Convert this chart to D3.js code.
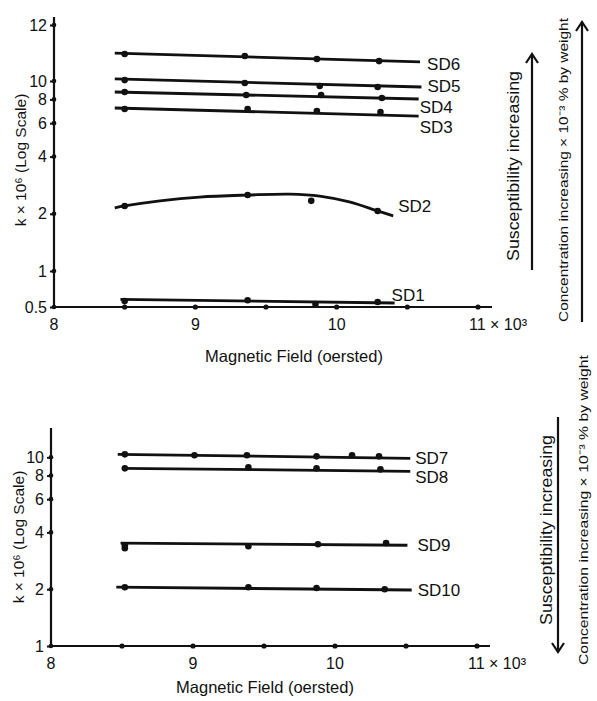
<!DOCTYPE html>
<html>
<head>
<meta charset="utf-8">
<script src="https://cdn.jsdelivr.net/npm/d3@7"></script>
<style>
  body { margin: 0; background: #fff; }
  svg { display: block; }
  text { font-family: "Liberation Sans", Arial, sans-serif; fill: #111; }
  .axis .domain { display: none; }
  .axis line { stroke: #111; stroke-width: 2; }
  .axis text { font-size: 16px; }
</style>
</head>
<body>
<div class="chart"></div>
<script>
var svgWidth = 597;
var svgHeight = 701;

// ---------- data ----------
var fieldTicks = [8.5, 9, 9.5, 10, 10.5, 11];
var fieldLabels = [8, 9, 10, 11];
var topKTicks = [0.5, 1, 2, 4, 6, 8, 10, 12];
var bottomKTicks = [1, 2, 4, 6, 8, 10];

// top panel: line ends and measured points (field x 10^3 Oe, k x 10^6)
var sd6LineX = [8.43, 10.59], sd6LineK = [10.95, 10.64];
var sd6X = [8.50, 9.35, 9.86, 10.30], sd6K = [10.92, 10.85, 10.74, 10.67];
var sd5LineX = [8.43, 10.60], sd5LineK = [10.07, 9.30];
var sd5X = [8.50, 9.35, 9.88, 10.29], sd5K = [10.03, 9.76, 9.41, 9.30];
var sd4LineX = [8.43, 10.58], sd4LineK = [8.75, 8.04];
var sd4X = [8.50, 9.36, 9.89, 10.32], sd4K = [8.75, 8.44, 8.44, 8.14];
var sd3LineX = [8.43, 10.58], sd3LineK = [7.21, 6.54];
var sd3X = [8.50, 9.37, 9.86, 10.31], sd3K = [7.12, 7.12, 6.95, 6.87];
var sd2LineX = [8.43, 8.50, 8.75, 9.03, 9.37, 9.67, 9.88, 10.09, 10.29, 10.40];
var sd2LineK = [2.15, 2.20, 2.34, 2.45, 2.51, 2.54, 2.48, 2.31, 2.07, 1.95];
var sd2X = [8.50, 9.37, 9.82, 10.29], sd2K = [2.20, 2.51, 2.34, 2.07];
var sd1LineX = [8.47, 10.41], sd1LineK = [0.58, 0.54];
var sd1X = [8.50, 9.37, 9.85, 10.29], sd1K = [0.56, 0.57, 0.53, 0.55];

// bottom panel
var sd7LineX = [8.47, 10.53], sd7LineK = [10.37, 9.88];
var sd7X = [8.52, 9.01, 9.38, 9.87, 10.12, 10.31], sd7K = [10.37, 10.25, 10.25, 10.12, 10.25, 10.12];
var sd8LineX = [8.50, 10.53], sd8LineK = [8.74, 8.43];
var sd8X = [8.52, 9.39, 9.87, 10.32], sd8K = [8.74, 8.85, 8.74, 8.63];
var sd9LineX = [8.49, 10.51], sd9LineK = [3.51, 3.42];
var sd9X = [8.52, 8.52, 9.39, 9.88, 10.36], sd9K = [3.42, 3.30, 3.38, 3.46, 3.51];
var sd10LineX = [8.46, 10.54], sd10LineK = [2.05, 1.98];
var sd10X = [8.52, 9.39, 9.87, 10.35], sd10K = [2.05, 2.05, 2.03, 2.00];

var topSeries = [
  {name: "SD6", lx: sd6LineX, lk: sd6LineK, px: sd6X, pk: sd6K},
  {name: "SD5", lx: sd5LineX, lk: sd5LineK, px: sd5X, pk: sd5K},
  {name: "SD4", lx: sd4LineX, lk: sd4LineK, px: sd4X, pk: sd4K},
  {name: "SD3", lx: sd3LineX, lk: sd3LineK, px: sd3X, pk: sd3K},
  {name: "SD2", lx: sd2LineX, lk: sd2LineK, px: sd2X, pk: sd2K, curved: true},
  {name: "SD1", lx: sd1LineX, lk: sd1LineK, px: sd1X, pk: sd1K}
];
var bottomSeries = [
  {name: "SD7", lx: sd7LineX, lk: sd7LineK, px: sd7X, pk: sd7K},
  {name: "SD8", lx: sd8LineX, lk: sd8LineK, px: sd8X, pk: sd8K},
  {name: "SD9", lx: sd9LineX, lk: sd9LineK, px: sd9X, pk: sd9K},
  {name: "SD10", lx: sd10LineX, lk: sd10LineK, px: sd10X, pk: sd10K}
];

// label offsets from the line end (px)
var labelOffset = {
  SD6: [7, 3], SD5: [6, 0], SD4: [1, 8], SD3: [1, 11], SD2: [5, -9], SD1: [-3, -8],
  SD7: [5, 0], SD8: [5, 6], SD9: [10, 0], SD10: [6, 0]
};

var svg = d3.select(".chart").append("svg")
  .attr("width", svgWidth)
  .attr("height", svgHeight);

// ---------- scales ----------
var xTop = d3.scaleLinear().domain([8, 11]).range([54, 478]);
var yTop = d3.scaleLog().domain([0.5, 1, 10, 12, 12.33]).range([307, 271, 81, 25, 17]);

var xBot = d3.scaleLinear().domain([8, 11]).range([51, 477]);
var yBot = d3.scaleLog().domain([1, 14.3]).range([646, 428]);

function drawPanel(x, y, kTicks, series, axisRight, yTitlePos, xTitleX, xTitleY) {
  var g = svg.append("g");
  var x0 = x.range()[0];
  var yDom = y.domain();
  var yBase = y(yDom[0]);

  // axis lines
  g.append("line")
    .attr("x1", x0).attr("x2", x0)
    .attr("y1", yBase).attr("y2", y(yDom[yDom.length - 1]))
    .attr("stroke", "#111").attr("stroke-width", 2.2);
  g.append("line")
    .attr("x1", x0).attr("x2", axisRight)
    .attr("y1", yBase).attr("y2", yBase)
    .attr("stroke", "#111").attr("stroke-width", 2.2);

  var leftAxis = d3.axisLeft(y)
    .tickValues(kTicks)
    .tickFormat(d => d === 0.5 ? "0.5" : d3.format("d")(d))
    .tickSize(4)
    .tickPadding(3);
  g.append("g")
    .attr("class", "axis")
    .attr("transform", `translate(${x0},0)`)
    .call(leftAxis);

  g.selectAll(".ydot")
    .data(kTicks)
    .enter().append("circle")
    .attr("cx", x0).attr("cy", d => y(d)).attr("r", 2.3)
    .attr("fill", "#111");

  g.selectAll(".xdot")
    .data(fieldTicks)
    .enter().append("circle")
    .attr("cx", d => x(d)).attr("cy", yBase).attr("r", 2.6)
    .attr("fill", "#111");

  // x tick labels
  g.selectAll(".xlab")
    .data(fieldLabels)
    .enter().append("text")
    .attr("x", d => x(d))
    .attr("y", yBase + 23)
    .attr("text-anchor", d => d === 11 ? "start" : "middle")
    .attr("dx", d => d === 11 ? -9 : 0)
    .attr("font-size", 16)
    .text(d => d === 11 ? "11 \u00d7 10\u00b3" : d);

  g.append("text")
    .attr("x", xTitleX).attr("y", xTitleY)
    .attr("text-anchor", "middle")
    .attr("font-size", 16.5)
    .text("Magnetic Field (oersted)");

  g.append("text")
    .attr("transform", `translate(${yTitlePos[0]},${yTitlePos[1]}) rotate(-90)`)
    .attr("text-anchor", "middle")
    .attr("dominant-baseline", "central")
    .attr("font-size", 15.5)
    .text("k \u00d7 10\u2076 (Log Scale)");

  var line = d3.line().x(d => x(d[0])).y(d => y(d[1]));

  series.forEach(s => {
    var pts = s.lx.map((v, i) => [v, s.lk[i]]);
    g.append("path")
      .attr("d", line.curve(s.curved ? d3.curveCatmullRom : d3.curveLinear)(pts))
      .attr("fill", "none")
      .attr("stroke", "#111")
      .attr("stroke-width", 2.8);

    g.selectAll(null)
      .data(s.px.map((v, i) => [v, s.pk[i]]))
      .enter().append("circle")
      .attr("cx", d => x(d[0])).attr("cy", d => y(d[1]))
      .attr("r", 3.3)
      .attr("fill", "#111");

    var end = pts[pts.length - 1];
    var off = labelOffset[s.name];
    g.append("text")
      .attr("x", x(end[0]) + off[0])
      .attr("y", y(end[1]) + off[1])
      .attr("dominant-baseline", "central")
      .attr("font-size", 17)
      .text(s.name);
  });
}

drawPanel(xTop, yTop, topKTicks, topSeries, 492, [20, 160], 294, 362);
drawPanel(xBot, yBot, bottomKTicks, bottomSeries, 490, [18, 537], 265, 693);

// ---------- side annotations ----------
function arrow(xp, yFrom, yTo) {
  svg.append("line")
    .attr("x1", xp).attr("x2", xp).attr("y1", yFrom).attr("y2", yTo)
    .attr("stroke", "#111").attr("stroke-width", 2.2);
  var dir = yTo < yFrom ? 1 : -1;
  svg.append("path")
    .attr("d", `M${xp - 6},${yTo + dir * 9} L${xp},${yTo} L${xp + 6},${yTo + dir * 9}`)
    .attr("fill", "none").attr("stroke", "#111").attr("stroke-width", 2.2);
}

function sideText(xp, yc, len, size, str) {
  svg.append("text")
    .attr("transform", `translate(${xp},${yc}) rotate(-90)`)
    .attr("text-anchor", "middle")
    .attr("dominant-baseline", "central")
    .attr("font-size", size)
    .attr("textLength", len)
    .attr("lengthAdjust", "spacingAndGlyphs")
    .text(str);
}

var concText = "Concentration increasing \u00d7 10\u207b\u00b3 % by weight";

sideText(513, 166, 190, 16.5, "Susceptibility increasing");
arrow(532, 270, 54);
sideText(563, 170, 304, 13.5, concText);
arrow(582, 322, 22);

sideText(546, 530, 190, 16.5, "Susceptibility increasing");
arrow(558, 417, 652);
sideText(583, 510, 310, 13.5, concText);
</script>
</body>
</html>
